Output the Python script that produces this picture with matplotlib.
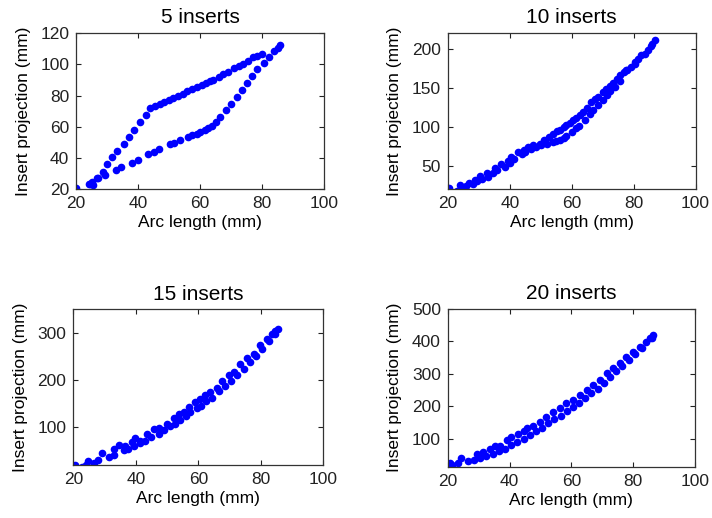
import matplotlib.pyplot as plt

plt.rcParams['font.family'] = ['Liberation Sans', 'DejaVu Sans']
plt.rcParams['font.size'] = 12.5

# ---- data (arc length vs insert projection, mm) ----
# 5 inserts: two branches forming a loop
x5_up = [20, 24, 25, 27, 28.5, 30, 31.5, 33.3, 35.3, 37, 38.7, 40.6, 42.4, 43.9,
         45.5, 47, 48.5, 50, 51.4, 53, 54.5, 55.7, 57.5, 59, 60.5, 62, 63.2, 64.3,
         66, 67.5, 69, 70.8, 72.5, 74, 75.5, 77.2, 78.5, 79.9]
y5_up = [20.6, 23.5, 24.5, 27, 31, 35.8, 40.3, 44.6, 48.8, 53.5, 57.8, 62.7, 67.3, 71.7,
         73, 74.5, 75.8, 77, 78.1, 79.5, 81.2, 83, 84.3, 85.5, 86.8, 88, 89, 89.9,
         91.8, 93.5, 95.2, 97.4, 99, 100.5, 102.2, 104.4, 105.5, 106.5]
x5_lo = [24.5, 25.5, 26.7, 29.4, 32.9, 34.4, 38, 39.8, 43.3, 45, 46.9, 50.3, 51.5,
         53.5, 56.2, 57.5, 59, 60, 61.5, 62.7, 64, 65, 66.5, 68.3, 70, 71.8, 73.5,
         75.1, 76.7, 78.5, 80.7, 82.1, 83.9, 85, 85.8]
y5_lo = [23, 22.5, 27.3, 29, 32.2, 34.3, 36.9, 38.6, 42.2, 43.5, 45.4, 48.8, 49.5,
         51.4, 53.5, 54.5, 55.5, 56.7, 58, 59.3, 60.5, 62.7, 66.3, 71, 74.8, 79.1, 83.8,
         88.1, 92.4, 96.9, 101, 104.9, 108.7, 110.5, 112.3]

# 10 inserts
x10_a = [20.4, 23.9, 26.9, 28.7, 30.3, 32.5, 35.2, 37.3, 39.5, 40.5, 42.7, 44.5, 46,
         47.5, 49.7, 51, 52.5, 53.9, 55.2, 56.1, 57.5, 58.3, 59.5, 60.4, 61.5, 62.6,
         63.6, 65, 66.3, 67.5, 68.5, 70, 71.2, 72.5, 73.3, 74.5, 75.5, 77, 78, 80.3,
         81.5, 83.5, 85.5, 86.8]
y10_a = [20.9, 25, 28, 31.5, 36.7, 40, 46.5, 52, 56, 61.4, 67.8, 70.5, 74,
         76.4, 77.7, 83, 87, 90, 94, 96, 100, 102, 105, 108, 111, 115,
         119, 124, 132, 136, 138, 144, 149, 152, 155.5, 161, 166, 170, 173, 183,
         187, 193, 203, 211]
x10_b = [22.8, 24.4, 26, 28, 29.5, 31, 33, 34.5, 36, 38.4, 40, 41.5, 43.8, 45, 47,
         48.5, 50, 52, 53.9, 55, 56.1, 57.5, 58.3, 60, 61.5, 62.5, 64.2, 66, 67,
         68.5, 70, 71.5, 72.5, 74, 75.5, 77.6, 79, 80.5, 82.5, 84.5, 86]
y10_b = [18, 21, 24, 27, 30, 33, 35.8, 40, 44, 48.6, 54, 58, 64.9, 68, 72,
         74, 76, 77.5, 80.6, 81.5, 82.8, 86, 88, 93.5, 98, 101, 108, 116, 122,
         128, 134, 141, 146, 151, 158, 172.6, 177, 181, 191.8, 198, 206]

# 15 inserts
x15_a = [20.6, 24.6, 29.2, 32.9, 34.5, 36.5, 38.8, 39.8, 41.5, 43.6, 45.7, 47.5, 50,
         52.1, 53.7, 55.5, 56.9, 59, 60.6, 62.2, 63.8, 66, 67.6, 69.7, 71.3, 73.4,
         75.6, 77.7, 79.8, 82, 83.6, 84.6, 85.5]
y15_a = [20, 28.5, 44.7, 55, 62, 60, 69, 76.5, 72, 87, 95.5, 98, 108,
         119, 129, 133, 143, 154, 161, 168, 175, 184, 198, 210, 217, 235,
         246, 256, 274, 288, 298, 305, 309]
x15_b = [22.8, 24, 26.5, 28, 31.3, 33, 36.1, 37.5, 39.5, 41.4, 43, 45, 47.3, 49, 51,
         52.5, 54.2, 56, 57.5, 59.5, 61, 62.5, 64.5, 66.5, 68.5, 70.5, 72.5, 74.5,
         76.5, 78.5, 80.5, 82.5, 84.5]
y15_b = [16, 20, 25, 30, 37.6, 42, 52, 55, 60, 66, 72, 80, 87, 95, 102,
         108, 115, 125, 132, 140, 146, 155, 163, 176, 188, 198, 210, 224,
         238, 252, 266, 282, 298]

# 20 inserts
x20_a = [20.6, 24.4, 29.3, 31.4, 33.6, 35.2, 36.8, 39, 40.6, 42.8, 44.5, 45.5, 47.6,
         49.8, 51.9, 54.1, 56.2, 58.4, 60.5, 62.7, 64.9, 67, 69.2, 71.4, 73.5, 75.7,
         77.8, 80, 82.1, 84.3, 85.4, 86.5]
y20_a = [25, 40.6, 55, 60, 70, 78.5, 80, 97, 105, 115, 125, 133, 140,
         153, 168, 184, 194, 210, 220, 235, 251, 266, 281, 302, 317, 333,
         353, 368, 384, 399, 410, 418]
x20_b = [21.5, 23.3, 26.6, 28.5, 30.5, 32.5, 34.5, 36.5, 38.5, 40.5, 42.5, 44.5, 46.5,
         48.5, 50.5, 52.5, 54.5, 56.5, 58.5, 60.5, 62.5, 64.5, 66.5, 68.5, 70.5, 72.5,
         74.5, 76.5, 78.5, 80.5, 83, 86]
y20_b = [20, 27, 32, 36, 42, 48, 55, 62, 70, 82, 90, 100, 112,
         125, 135, 148, 160, 172, 185, 198, 212, 225, 240, 255, 272, 290,
         308, 325, 342, 360, 380, 410]

titles = ['5 inserts', '10 inserts', '15 inserts', '20 inserts']
series = [
    (x5_up + x5_lo, y5_up + y5_lo),
    (x10_a + x10_b, y10_a + y10_b),
    (x15_a + x15_b, y15_a + y15_b),
    (x20_a + x20_b, y20_a + y20_b),
]
ylims = [(20, 120), (20, 220), (20, 350), (15, 500)]
yticks = [[20, 40, 60, 80, 100, 120], [50, 100, 150, 200], [100, 200, 300],
          [100, 200, 300, 400, 500]]

# axes rectangles in figure fractions (left, bottom, width, height)
rects = [
    (0.107, 0.635, 0.348, 0.301),
    (0.629, 0.635, 0.348, 0.301),
    (0.103, 0.102, 0.351, 0.301),
    (0.629, 0.099, 0.347, 0.305),
]

fig = plt.figure(figsize=(7.12, 5.18), dpi=100)

for i in range(4):
    ax = fig.add_axes(rects[i])
    xs, ys = series[i]
    ax.plot(xs, ys, 'o', color='blue', markersize=5.5, markeredgewidth=0)
    ax.set_xlim(20, 100)
    ax.set_ylim(*ylims[i])
    ax.set_xticks([20, 40, 60, 80, 100])
    ax.set_yticks(yticks[i])
    ax.tick_params(direction='in', top=True, right=True, length=3.5, width=0.8,
                   pad=5, colors='#222222')
    for s in ax.spines.values():
        s.set_color('#333333')
        s.set_linewidth(0.9)
    ax.set_title(titles[i], pad=7)
    ax.set_xlabel('Arc length (mm)', labelpad=3)
    ax.set_ylabel('Insert projection (mm)', labelpad=7)

fig.savefig('out.png', dpi=100)
